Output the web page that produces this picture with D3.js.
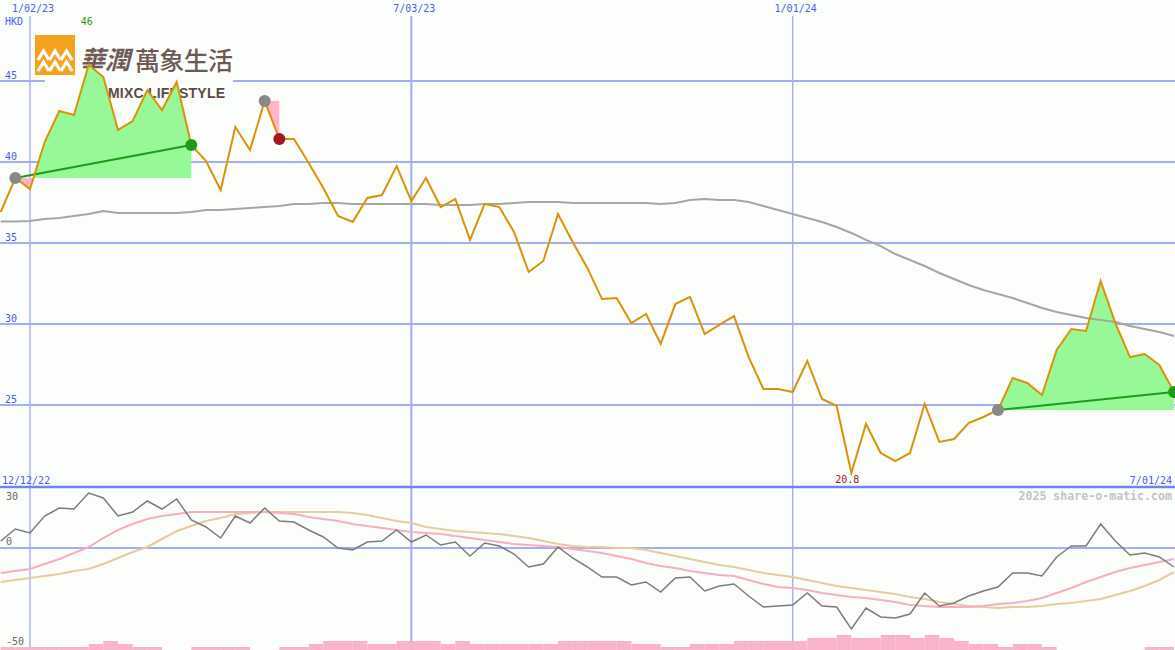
<!DOCTYPE html>
<html>
<head>
<meta charset="utf-8">
<script src="https://cdn.jsdelivr.net/npm/d3@7"></script>
<style>
  body { margin: 0; background: #fcfefb; }
  svg { display: block; }
  text { font-family: "DejaVu Sans Mono", monospace; font-size: 10px; }
</style>
</head>
<body>
<svg id="chart" width="1175" height="650"></svg>
<script>
// weekly closes, Mondays from 19 Dec 2022 to 1 Jul 2024
const weeks = d3.utcMonday.range(new Date(Date.UTC(2022, 11, 19)), new Date(Date.UTC(2024, 6, 2)));

const price = [36.91, 39.01, 38.33, 41.23, 43.15, 42.90, 46.00, 45.25, 41.98, 42.53,
  44.44, 43.21, 44.94, 41.05, 40.06, 38.27, 42.16, 40.74, 43.77, 41.42,
  41.42, 39.94, 38.40, 36.67, 36.30, 37.78, 37.96, 39.75, 37.59, 39.01,
  37.22, 37.72, 35.19, 37.41, 37.22, 35.68, 33.21, 33.89, 36.79, 35.06,
  33.46, 31.54, 31.60, 30.06, 30.62, 28.77, 31.23, 31.67, 29.38, 29.94,
  30.49, 27.96, 25.99, 25.99, 25.80, 27.72, 25.37, 24.94, 20.80, 23.83,
  22.04, 21.54, 22.04, 25.06, 22.72, 22.90, 23.89, 24.26, 24.69, 26.67,
  26.36, 25.62, 28.40, 29.69, 29.57, 32.65, 30.06, 27.96, 28.15, 27.47, 25.80];

// long moving average (grey)
const priceMA = [36.33, 36.33, 36.36, 36.48, 36.54, 36.67, 36.79, 36.98, 36.85, 36.85,
  36.85, 36.85, 36.85, 36.91, 37.04, 37.04, 37.10, 37.16, 37.22, 37.28,
  37.41, 37.41, 37.47, 37.47, 37.41, 37.41, 37.41, 37.41, 37.41, 37.41,
  37.35, 37.35, 37.35, 37.41, 37.41, 37.47, 37.53, 37.53, 37.53, 37.47,
  37.47, 37.47, 37.47, 37.47, 37.47, 37.41, 37.47, 37.65, 37.72, 37.65,
  37.65, 37.53, 37.28, 37.04, 36.79, 36.54, 36.30, 35.99, 35.62, 35.19,
  34.81, 34.32, 33.95, 33.58, 33.15, 32.78, 32.41, 32.10, 31.85, 31.60,
  31.30, 30.99, 30.74, 30.56, 30.37, 30.25, 30.12, 29.88, 29.69, 29.51, 29.26];

// lower panel: momentum (grey) and its two averages (pink, tan)
const momentum = [3.5, 9.5, 7.5, 16, 20, 19.5, 27.5, 25, 16, 18,
  23.5, 19.5, 24.5, 14, 10.5, 5, 16, 12.5, 20, 13.5,
  13, 9, 5.5, 0, -1, 3, 3.5, 9, 3, 6.5,
  1.5, 3, -4, 2.5, 1, -3, -9.5, -8, 0.5, -5,
  -9.5, -14.5, -14.5, -18.5, -17, -22, -15, -14.5, -21.5, -19,
  -18, -24, -29.5, -29, -28.5, -22.5, -29, -29.5, -40.5, -30,
  -34.5, -35, -33, -22.5, -29, -27.5, -24, -21.5, -19.5, -12.5,
  -12.5, -14, -4.5, 1, 1, 12, 3.5, -3.5, -2.5, -4.5, -9.5];

const momFast = [-12.5, -11.5, -10.5, -8, -5.5, -2.5, 0.5, 5, 9, 12,
  14.5, 16, 17, 18, 18, 18, 18, 18, 18, 17.5,
  17, 15.5, 14.5, 13.5, 12, 11, 10, 9, 8, 7.5,
  7, 6, 5, 4, 3, 2, 1.5, 1, 0.5, -0.5,
  -1.5, -2.5, -4, -5.5, -7.5, -9, -10, -11.5, -12.5, -13.5,
  -14, -16, -18, -19.5, -20, -21, -22.5, -23.5, -24.5, -25,
  -26, -27, -28.5, -29, -29.5, -29.5, -29.5, -29, -28, -27.5,
  -26.5, -25, -22.5, -20, -17, -14.5, -12, -10, -8.5, -7, -5.5];

const momSlow = [-17, -16, -15, -14, -13, -11.5, -10.5, -8, -5, -2,
  0.5, 4.5, 8.5, 11, 13.5, 15, 17, 17.5, 18, 18,
  18, 18, 18, 18, 17.5, 16.5, 15, 13.5, 12.5, 10.5,
  9.5, 8.5, 8, 7.5, 7, 6, 5, 3.5, 2, 1,
  0.5, 0.5, 0, 0, -1, -2.5, -4, -5.5, -7, -8.5,
  -9.5, -11, -12.5, -13.5, -14.5, -16, -17.5, -19, -20, -21,
  -22, -23, -24.5, -25.5, -27, -28, -29, -29.5, -30, -29.5,
  -29.5, -29, -28, -27.5, -26.5, -25.5, -23.5, -21.5, -19, -16, -12];

const volume = [1, 1, 1, 1, 1, 1, 2, 3, 2, 1, 1, 0, 0, 1, 1, 1, 1, 0, 0, 1,
  1, 2, 3, 3, 3, 2, 2, 3, 3, 3, 2, 3, 2, 2, 2, 2, 2, 2, 3, 3,
  3, 3, 3, 2, 2, 1, 1, 2, 2, 2, 3, 3, 3, 3, 3, 4, 4, 5, 4, 4,
  5, 5, 4, 5, 4, 3, 2, 2, 1, 2, 2, 1, 0, 0, 0, 0, 0, 0, 1, 1, 0];

// highlighted runs: [start week index, end week index]
const runs = [[1, 13], [18, 19], [68, 80]];

const priceTicks = [25, 30, 35, 40, 45];
const momTicks = [30, 0, -50];
const dateTicks = [new Date(Date.UTC(2023, 0, 2)), new Date(Date.UTC(2023, 6, 3)), new Date(Date.UTC(2024, 0, 1))];
const cornerDates = ["12/12/22", "7/01/24"];
const credit = "2025 share-o-matic.com";

const W = 1175, H = 650;
const svg = d3.select("#chart");

const x = d3.scaleUtc()
  .domain([new Date(Date.UTC(2023, 0, 2)), new Date(Date.UTC(2024, 6, 1))])
  .range([30, 1174]);
const y = d3.scaleLinear().domain([25, 45]).range([405, 81]);
const yM = d3.scaleLinear().domain([-50, 30]).range([648, 488]);
const yV = d3.scaleLinear().domain([0, 5]).range([650, 635]);
const step = x(weeks[1]) - x(weeks[0]);

const gridColor = "#a4aef2";
const labelBlue = "#4b5cf2";
const fmtDate = d3.utcFormat("%-m/%d/%y");

svg.append("rect").attr("width", W).attr("height", H).attr("fill", "#fcfefb");

// horizontal grid
svg.append("g").selectAll("line").data(priceTicks).join("line")
  .attr("x1", 0).attr("x2", W)
  .attr("y1", d => y(d)).attr("y2", d => y(d))
  .attr("stroke", gridColor).attr("stroke-width", 2);

svg.append("line").attr("x1", 0).attr("x2", W)
  .attr("y1", yM(0)).attr("y2", yM(0))
  .attr("stroke", gridColor).attr("stroke-width", 2);

// vertical grid
svg.append("g").selectAll("line").data(dateTicks).join("line")
  .attr("x1", d => x(d)).attr("x2", d => x(d))
  .attr("y1", 16).attr("y2", H)
  .attr("stroke", gridColor).attr("stroke-width", (d, i) => i == 1 ? 2 : 1.4);

svg.append("line").attr("x1", 0).attr("x2", W).attr("y1", 487).attr("y2", 487)
  .attr("stroke", "#7282ef").attr("stroke-width", 2.5);

// logo
const logo = svg.append("g");
logo.append("rect").attr("x", 45).attr("y", 36).attr("width", 188).attr("height", 64).attr("fill", "#fcfefb");
logo.append("rect").attr("x", 35).attr("y", 35).attr("width", 40).attr("height", 40).attr("fill", "#f4a21f");
for (let r = 0; r < 2; r++) {
  for (let k = 0; k < 3; k++) {
    logo.append("polyline")
      .attr("points", [[38 + 11.5 * k, 60 + 11 * r], [43.5 + 11.5 * k, 51 + 11 * r], [49 + 11.5 * k, 60 + 11 * r]].join(" "))
      .attr("fill", "none").attr("stroke", "#fff").attr("stroke-width", 3.2);
  }
}
logo.append("text").attr("x", 80).attr("y", 69)
  .style("font-family", "'Noto Sans CJK TC', sans-serif").style("font-size", "25px").style("font-weight", 700)
  .attr("fill", "#6e5a55").attr("font-style", "italic").text("華潤");
logo.append("text").attr("x", 135).attr("y", 70)
  .style("font-family", "'Noto Sans CJK TC', sans-serif").style("font-size", "25px").style("font-weight", 500)
  .attr("fill", "#6e5a55").attr("textLength", 98).text("萬象生活");
logo.append("text").attr("x", 108).attr("y", 98)
  .style("font-family", "'Liberation Sans', Arial, sans-serif").style("font-size", "14px").style("font-weight", 700)
  .attr("fill", "#5c4a45").attr("textLength", 117).text("MIXC LIFESTYLE");

// highlighted runs: fill between price and start level
const defs = svg.append("defs");
runs.forEach(([a, b], n) => {
  const base = y(price[a]);
  const idx = d3.range(a, b + 1);
  const area = d3.area().x(i => x(weeks[i])).y0(base).y1(i => y(price[i]));
  defs.append("clipPath").attr("id", "up" + n).append("rect")
    .attr("x", 0).attr("y", 0).attr("width", W).attr("height", base);
  defs.append("clipPath").attr("id", "dn" + n).append("rect")
    .attr("x", 0).attr("y", base).attr("width", W).attr("height", 487 - base);
  svg.append("path").datum(idx).attr("d", area).attr("fill", "#96f896").attr("clip-path", `url(#up${n})`);
  svg.append("path").datum(idx).attr("d", area).attr("fill", "#ffb4c8").attr("clip-path", `url(#dn${n})`);
});

const line = d3.line().x((d, i) => x(weeks[i])).y(d => y(d));

svg.append("path").datum(priceMA).attr("d", line)
  .attr("fill", "none").attr("stroke", "#a6a6a6").attr("stroke-width", 2);

runs.forEach(([a, b]) => {
  if (price[b] > price[a]) {
    svg.append("line")
      .attr("x1", x(weeks[a])).attr("y1", y(price[a]))
      .attr("x2", x(weeks[b])).attr("y2", y(price[b]))
      .attr("stroke", "#1f9a1f").attr("stroke-width", 2);
  }
});

svg.append("path").datum(price).attr("d", line)
  .attr("fill", "none").attr("stroke", "#dc9208").attr("stroke-width", 2);

runs.forEach(([a, b]) => {
  svg.append("circle").attr("cx", x(weeks[a])).attr("cy", y(price[a])).attr("r", 6).attr("fill", "#888");
  svg.append("circle").attr("cx", x(weeks[b])).attr("cy", y(price[b])).attr("r", 6)
    .attr("fill", price[b] > price[a] ? "#1f9a1f" : "#a31818");
});

// lower panel
svg.append("g").selectAll("rect").data(volume).join("rect")
  .attr("x", (d, i) => x(weeks[i])).attr("width", step)
  .attr("y", d => yV(d)).attr("height", d => yV(0) - yV(d))
  .attr("fill", "#f9b4c9");

const mline = d3.line().x((d, i) => x(weeks[i])).y(d => yM(d));
svg.append("path").datum(momSlow).attr("d", mline).attr("fill", "none").attr("stroke", "#e6cc9e").attr("stroke-width", 2);
svg.append("path").datum(momFast).attr("d", mline).attr("fill", "none").attr("stroke", "#f9adc2").attr("stroke-width", 2);
svg.append("path").datum(momentum).attr("d", mline).attr("fill", "none").attr("stroke", "#7c7c7c").attr("stroke-width", 1.5);

// labels
svg.append("g").selectAll("text").data(priceTicks).join("text")
  .attr("x", 5).attr("y", d => y(d) - 2).attr("fill", labelBlue).text(d => d);
svg.append("text").attr("x", 5).attr("y", 25).attr("fill", labelBlue).text("HKD");
svg.append("g").selectAll("text").data(dateTicks).join("text")
  .attr("x", d => x(d) + 3).attr("y", 12).attr("text-anchor", "middle").attr("fill", labelBlue).text(fmtDate);

svg.append("text").attr("x", 2).attr("y", 484).attr("fill", labelBlue).text(cornerDates[0]);
svg.append("text").attr("x", 1172).attr("y", 484).attr("text-anchor", "end").attr("fill", labelBlue).text(cornerDates[1]);
svg.append("text").attr("x", 1172).attr("y", 500).attr("text-anchor", "end")
  .style("font-size", "11.6px").style("font-weight", 700).attr("fill", "#c4c4c4").text(credit);

svg.append("g").selectAll("text").data(momTicks).join("text")
  .attr("x", 6).attr("y", d => d == 30 ? 500 : yM(d) - 3).attr("fill", "#666").text(d => d);

const iMax = d3.maxIndex(price), iMin = d3.minIndex(price);
svg.append("text").attr("x", x(weeks[iMax]) - 2).attr("y", 25).attr("text-anchor", "middle")
  .attr("fill", "#1f9a1f").text(d3.format("~g")(price[iMax]));
svg.append("text").attr("x", x(weeks[iMin]) - 4).attr("y", 483).attr("text-anchor", "middle")
  .attr("fill", "#a01c1c").text(d3.format("~g")(price[iMin]));
</script>
</body>
</html>
